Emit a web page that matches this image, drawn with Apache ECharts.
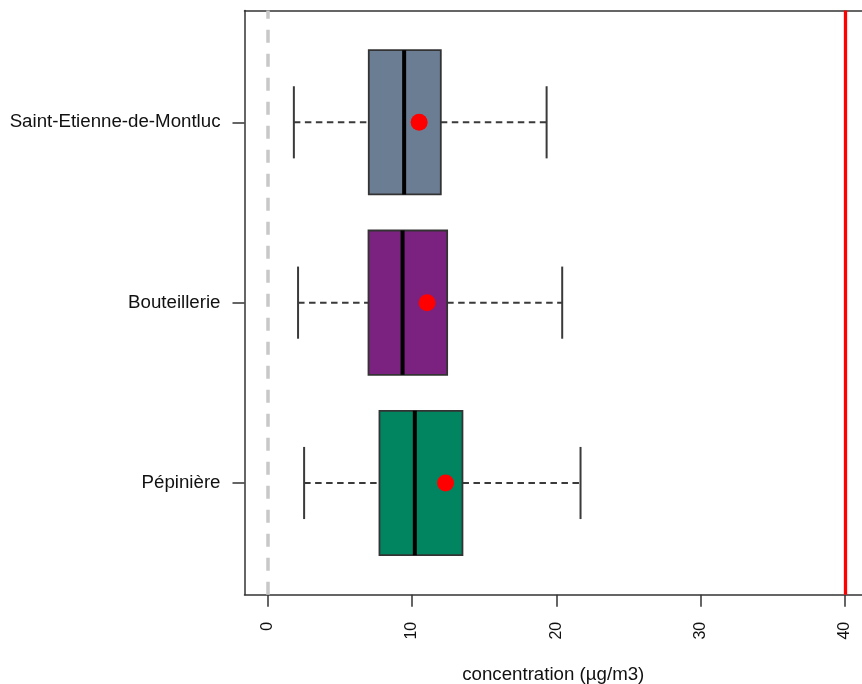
<!DOCTYPE html>
<html>
<head>
<meta charset="utf-8">
<script src="https://cdn.jsdelivr.net/npm/echarts@6/dist/echarts.min.js"></script>
<style>
html,body{margin:0;padding:0;background:#fff;}
#chart{width:862px;height:684px;}
</style>
</head>
<body>
<div id="chart"></div>
<script>
// ---- data ----
const categories = ['Pépinière', 'Bouteillerie', 'Saint-Etienne-de-Montluc']; // bottom -> top
const whiskerLow  = [2.53, 2.11, 1.82];
const q1          = [7.75, 6.99, 7.01];
const median      = [10.2, 9.35, 9.46];
const q3          = [13.5, 12.44, 12.0];
const whiskerHigh = [21.68, 20.41, 19.33];
const means       = [12.33, 11.05, 10.5];
const xTicks      = [0, 10, 20, 30, 40];
const zeroLine    = 0;
const limitValue  = 40;

const boxColors = ['#008560', '#7B217F', '#6B7D93'];

const boxData = categories.map((c, i) => [i + 1, whiskerLow[i], q1[i], median[i], q3[i], whiskerHigh[i], means[i]]);

const chart = echarts.init(document.getElementById('chart'), null, {renderer: 'canvas'});

function renderBox(params, api) {
  const pos = api.value(0);
  const lo = api.value(1), a = api.value(2), med = api.value(3), b = api.value(4), hi = api.value(5), mn = api.value(6);
  const c = (x, y) => api.coord([x, y]);
  const halfBox = 0.4, halfCap = 0.2;
  const pLo = c(lo, pos), pA = c(a, pos), pB = c(b, pos), pHi = c(hi, pos);
  const boxTop = c(a, pos + halfBox), boxBot = c(b, pos - halfBox);
  const capTop = c(lo, pos + halfCap)[1], capBot = c(lo, pos - halfCap)[1];
  const medTop = c(med, pos + halfBox), medBot = c(med, pos - halfBox);
  const pm = c(mn, pos);
  const whiskStyle = {stroke: '#3a3a3a', lineWidth: 2, lineDash: [6.5, 4.5]};
  const capStyle = {stroke: '#3a3a3a', lineWidth: 2};
  return {
    type: 'group',
    children: [
      {type: 'line', shape: {x1: pLo[0], y1: pLo[1], x2: pA[0], y2: pA[1]}, style: whiskStyle},
      {type: 'line', shape: {x1: pB[0], y1: pB[1], x2: pHi[0], y2: pHi[1]}, style: whiskStyle},
      {type: 'line', shape: {x1: pLo[0], y1: capTop, x2: pLo[0], y2: capBot}, style: capStyle},
      {type: 'line', shape: {x1: pHi[0], y1: capTop, x2: pHi[0], y2: capBot}, style: capStyle},
      {type: 'rect', shape: {x: boxTop[0], y: boxTop[1], width: boxBot[0] - boxTop[0], height: boxBot[1] - boxTop[1]},
        style: {fill: boxColors[params.dataIndex], stroke: '#333', lineWidth: 1.8}},
      {type: 'line', shape: {x1: medTop[0], y1: medTop[1], x2: medBot[0], y2: medBot[1]}, style: {stroke: '#000', lineWidth: 4}},
      {type: 'circle', shape: {cx: pm[0], cy: pm[1], r: 8.5}, style: {fill: '#FF0000'}}
    ]
  };
}

const FONT = 'Liberation Sans, Arial, sans-serif';
const frameLine = {show: true, onZero: false, lineStyle: {color: '#333', width: 1.5}};

chart.setOption({
  animation: false,
  backgroundColor: '#fff',
  grid: {left: 244.5, top: 10.5, right: 0, bottom: 89.2, show: false, containLabel: false, outerBoundsMode: 'none'},
  xAxis: [{
    type: 'value', min: -1.6, max: 41.18, position: 'bottom',
    splitLine: {show: false},
    axisLine: frameLine,
    axisTick: {show: true, length: 12, lineStyle: {color: '#333', width: 1.5}, customValues: xTicks},
    axisLabel: {rotate: 90, margin: 27, fontSize: 16, color: '#111', fontFamily: FONT, customValues: xTicks},
    name: 'concentration (µg/m3)', nameLocation: 'middle', nameGap: 71,
    nameTextStyle: {fontSize: 18.7, color: '#111', fontFamily: FONT}
  }, {
    type: 'value', min: -1.6, max: 41.18, position: 'top',
    splitLine: {show: false},
    axisLine: frameLine,
    axisTick: {show: false},
    axisLabel: {show: false}
  }],
  yAxis: {
    type: 'value', min: 0.38, max: 3.62,
    splitLine: {show: false},
    axisLine: frameLine,
    axisTick: {show: true, length: 12, lineStyle: {color: '#333', width: 1.5}, customValues: [1, 2, 3]},
    axisLabel: {margin: 24, fontSize: 18.7, color: '#111', fontFamily: FONT,
      customValues: [1, 2, 3], formatter: v => categories[Math.round(v) - 1] || ''}
  },
  series: [{
    type: 'custom',
    xAxisIndex: 0,
    renderItem: renderBox,
    data: boxData,
    encode: {x: [1, 2, 3, 4, 5], y: 0},
    z: 3,
    markLine: {
      silent: true, symbol: 'none', label: {show: false},
      data: [
        {xAxis: zeroLine, lineStyle: {color: '#C8C8C8', width: 3.5, type: [13, 11]}},
        {xAxis: limitValue, lineStyle: {color: '#FF0000', width: 3.3, type: 'solid'}}
      ]
    }
  }]
});
</script>
</body>
</html>
